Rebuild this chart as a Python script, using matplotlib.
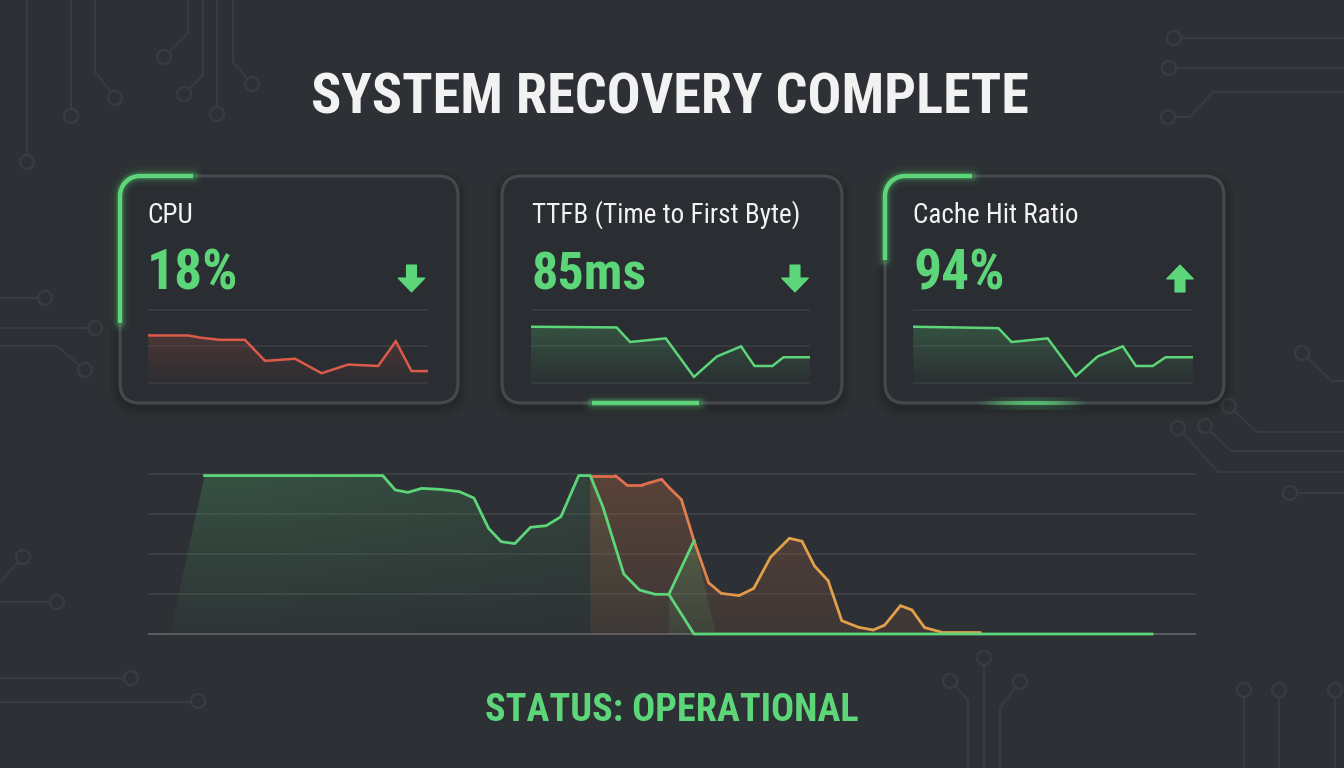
import numpy as np
import matplotlib
matplotlib.use("Agg")
import matplotlib.pyplot as plt
from matplotlib.patches import FancyBboxPatch, Polygon, Circle
from matplotlib.collections import LineCollection
from matplotlib.colors import to_rgba

plt.rcParams['font.family'] = ['Roboto Condensed', 'Roboto', 'DejaVu Sans']

# ---------------- data ----------------
title = "SYSTEM RECOVERY COMPLETE"
status = "STATUS: OPERATIONAL"
card_labels = ["CPU", "TTFB (Time to First Byte)", "Cache Hit Ratio"]
card_values = ["18%", "85ms", "94%"]
card_trends = ["down", "down", "up"]

cpu_t = [0, 14.3, 18.5, 25.6, 34.5, 41.7, 52.4, 61.9, 71.4, 82.1, 88.4, 94.0, 100]
cpu_v = [65, 65, 62, 59, 59, 30, 33, 13, 25, 23, 57, 16, 16]
ttfb_t = [0, 30.7, 35.5, 48.3, 58.4, 66.6, 75.3, 80.1, 86.5, 90.5, 100]
ttfb_v = [77, 76, 56, 61, 8, 36, 50, 23, 23, 35, 35]
cache_t = [0, 30.4, 35.1, 48.0, 58.0, 65.8, 74.8, 79.5, 85.5, 90.1, 100]
cache_v = [77, 75, 56, 61, 9, 36, 50, 23, 23, 35, 35]

green_t = [5.4, 22.4, 23.6, 24.8, 26.1, 27.9, 29.7, 31.1, 32.5, 33.7, 35.0, 36.5,
           38.0, 39.4, 41.1, 42.2, 43.4, 45.4, 46.9, 48.4, 49.7, 52.1, 95.8]
green_v = [99, 99, 90, 88.5, 91, 90.4, 89, 85, 66, 57.7, 56.5, 66.7,
           67.7, 73.3, 99, 99, 79.6, 37.5, 27.5, 24.8, 24.8, 0, 0]
green_fill_start_t = 2.1

orange_t = [42.2, 44.6, 45.7, 47.1, 47.9, 49.0, 49.8, 50.9, 52.1, 53.5, 54.7, 56.4,
            57.8, 59.4, 61.2, 62.4, 63.6, 64.9, 66.2, 67.8, 69.2, 70.3, 71.8, 72.9,
            74.1, 75.7, 79.4]
orange_v = [99, 99, 93, 93, 94.6, 96.7, 91, 84, 58.3, 32, 25.4, 24,
            28.5, 48, 59.8, 58, 42.5, 33.3, 8.3, 4.2, 2.5, 5.6, 17.7, 15,
            4, 1.2, 1.2]

handoff_t = [49.7, 52.1]
handoff_v = [24.8, 58.3]

main_grid = [0, 25, 50, 75, 100]
spark_grid = [0, 50, 100]

# ---------------- style ----------------
W, H = 1344, 768
BG = '#2d3034'
CARD = '#2a2d31'
BORDER = '#45484d'
TRACE = '#383c41'
GREEN = '#5cd679'
RED = '#dc5a4a'
ORANGE_A = '#e06c4e'
ORANGE_B = '#e3a04a'
WHITE = '#f2f2f2'

fig = plt.figure(figsize=(W / 100, H / 100), dpi=100)
fig.patch.set_facecolor(BG)

bg = fig.add_axes([0, 0, 1, 1])
bg.set_xlim(0, W)
bg.set_ylim(H, 0)
bg.axis('off')
bg.set_zorder(0)


def px_axes(x0, x1, y_top, y_bot):
    return fig.add_axes([x0 / W, 1 - y_bot / H, (x1 - x0) / W, (y_bot - y_top) / H])


# ---------- circuit traces (decoration) ----------
traces = [
    ([(27, 0), (27, 155)], (27, 162)),
    ([(71, 0), (71, 109)], (71, 116)),
    ([(95, 0), (95, 72), (110, 91)], (115, 98)),
    ([(188, 0), (188, 33), (170, 51)], (164, 57)),
    ([(203, 0), (203, 75), (189, 89)], (184, 94)),
    ([(217, 0), (217, 107)], (217, 114)),
    ([(233, 0), (233, 62), (247, 78)], (252, 84)),
    ([(W, 38), (1181, 38)], (1174, 38)),
    ([(W, 68), (1176, 68)], (1169, 68)),
    ([(W, 92), (1213, 92), (1190, 117), (1175, 117)], (1168, 117)),
    ([(0, 298), (38, 298)], (45, 298)),
    ([(0, 328), (88, 328)], (95, 328)),
    ([(0, 346), (57, 346), (80, 366)], (85, 370)),
    ([(0, 582), (18, 562)], (23, 557)),
    ([(0, 602), (50, 602)], (57, 602)),
    ([(0, 678), (124, 678)], (131, 678)),
    ([(0, 702), (191, 702)], (198, 701)),
    ([(W, 381), (1332, 381), (1307, 358)], (1302, 353)),
    ([(W, 432), (1257, 432), (1234, 411)], (1229, 406)),
    ([(W, 451), (1231, 451), (1210, 431)], (1205, 426)),
    ([(W, 472), (1218, 472), (1183, 433)], (1178, 428)),
    ([(W, 493), (1297, 493)], (1290, 493)),
    ([(1244, H), (1244, 697)], (1244, 690)),
    ([(1279, H), (1279, 697)], (1279, 690)),
    ([(1335, H), (1335, 697)], (1335, 690)),
    ([(984, H), (984, 665)], (984, 658)),
    ([(968, H), (968, 700), (955, 686)], (950, 681)),
    ([(1000, H), (1000, 708), (1015, 688)], (1020, 682)),
]
for pts, c in traces:
    xs, ys = zip(*pts)
    bg.plot(xs, ys, color=TRACE, lw=1.5, solid_capstyle='round', zorder=1)
    bg.add_patch(Circle(c, 7, facecolor=BG, edgecolor=TRACE, lw=1.7, zorder=2))

# ---------- title & status ----------
bg.text(670, 114, title, color=WHITE, fontsize=40.5, fontweight='bold',
        ha='center', va='baseline', zorder=5)
bg.text(672, 721, status, color=GREEN, fontsize=27.5, fontweight='bold',
        ha='center', va='baseline', zorder=5)

# ---------- cards ----------
cards = [(120, 176, 458, 403), (502, 176, 842, 403), (885, 176, 1224, 403)]
R = 20
for (x0, y0, x1, y1) in cards:
    for k, a in [(10, 0.04), (6, 0.05), (3, 0.07)]:
        bg.add_patch(FancyBboxPatch((x0 - k, y0 - k + 4), x1 - x0 + 2 * k, y1 - y0 + 2 * k,
                                    boxstyle=f"round,pad=0,rounding_size={R + k}",
                                    facecolor=(0, 0, 0, a), edgecolor='none', zorder=3))
    bg.add_patch(FancyBboxPatch((x0, y0), x1 - x0, y1 - y0,
                                boxstyle=f"round,pad=0,rounding_size={R}",
                                facecolor=CARD, edgecolor=BORDER, lw=2.3, zorder=4))


def glow_line(xs, ys, color=GREEN, lw=3.2, z=6, strength=1.0):
    for w, a in [(14, 0.05), (9, 0.10), (6, 0.18)]:
        bg.plot(xs, ys, color=color, lw=w, alpha=a * strength, solid_capstyle='round', zorder=z)
    bg.plot(xs, ys, color=color, lw=lw, alpha=strength, solid_capstyle='butt', zorder=z + 0.1)


def corner_accent(x0, y0, y_end, x_end):
    th = np.linspace(np.pi, 1.5 * np.pi, 30)
    ax_ = x0 + R + R * np.cos(th)
    ay_ = y0 + R + R * np.sin(th)
    xs = np.concatenate([[x0], ax_, [x_end]])
    ys = np.concatenate([[y_end], ay_, [y0]])
    glow_line(xs, ys)


corner_accent(120, 176, 323, 193)
corner_accent(885, 176, 260, 972)
glow_line([592, 699], [403, 403])
# faded glow bar on card 3
seg_x = np.linspace(975, 1090, 40)
segs = [[(seg_x[i], 403), (seg_x[i + 1], 403)] for i in range(len(seg_x) - 1)]
s = np.linspace(0, 1, len(segs))
alphas = np.sin(np.pi * s) ** 1.2 * 0.75
cols = [to_rgba(GREEN, a) for a in alphas]
bg.add_collection(LineCollection(segs, colors=[to_rgba(GREEN, a * 0.25) for a in alphas], lw=9, zorder=6))
bg.add_collection(LineCollection(segs, colors=cols, lw=3, zorder=6.1))

label_x = [147, 532, 913]
value_sizes = [40, 37.5, 40]
for i, (x0, y0, x1, y1) in enumerate(cards):
    bg.text(label_x[i], 223, card_labels[i], color=WHITE, fontsize=19.5,
            ha='left', va='baseline', zorder=7)
    bg.text(label_x[i], 289, card_values[i], color=GREEN, fontsize=value_sizes[i], fontweight='bold',
            ha='left', va='baseline', zorder=7)

arrow_cx = [411.5, 795, 1180]
for cx, tr in zip(arrow_cx, card_trends):
    top, bot = 265, 292
    sw, hw, hl = 5, 13.5, 14
    if tr == 'down':
        verts = [(cx - sw, top), (cx + sw, top), (cx + sw, bot - hl), (cx + hw, bot - hl),
                 (cx, bot), (cx - hw, bot - hl), (cx - sw, bot - hl)]
    else:
        verts = [(cx - sw, bot), (cx + sw, bot), (cx + sw, top + hl), (cx + hw, top + hl),
                 (cx, top), (cx - hw, top + hl), (cx - sw, top + hl)]
    bg.add_patch(Polygon(verts, closed=True, facecolor=GREEN, edgecolor=GREEN, lw=0.8,
                         joinstyle='miter', zorder=7))


def gradient_under(ax, x, y, color, a_top, a_bot, y0, y1, z, x_fade=None):
    verts = [(x[0], y0)] + list(zip(x, y)) + [(x[-1], y0)]
    patch = Polygon(verts, closed=True, facecolor='none', edgecolor='none')
    ax.add_patch(patch)
    ny, nx = 200, 200
    alpha = np.linspace(a_bot, a_top, ny)[:, None] * np.ones((1, nx))
    if x_fade is not None:
        xx = np.linspace(min(x), max(x), nx)
        alpha = alpha * np.clip(x_fade(xx), 0, 1)[None, :]
    rgba = np.zeros((ny, nx, 4))
    rgba[..., :3] = to_rgba(color)[:3]
    rgba[..., 3] = alpha
    im = ax.imshow(rgba, extent=[min(x), max(x), y0, y1], origin='lower',
                   aspect='auto', zorder=z, interpolation='bilinear')
    im.set_clip_path(patch)


# ---------- sparklines ----------
spark_specs = [
    (148.3, 428.3, cpu_t, cpu_v, RED),
    (531, 810, ttfb_t, ttfb_v, GREEN),
    (913.3, 1193.3, cache_t, cache_v, GREEN),
]
for (x0, x1, t, v, col) in spark_specs:
    per = (382.7 - 310) / 100
    ax = px_axes(x0, x1, 310 - 5 * per, 382.7 + 5 * per)
    ax.set_zorder(5)
    ax.patch.set_alpha(0)
    ax.axis('off')
    for g in spark_grid:
        ax.axhline(g, color='#3b3e43', lw=1.1, zorder=1)
    gradient_under(ax, t, v, col, 0.28, 0.02, 0, 100, 2)
    ax.plot(t, v, color=col, lw=1.8, solid_joinstyle='miter', zorder=3)
    ax.set_xlim(0, 100)
    ax.set_ylim(-5, 105)

# ---------- main chart ----------
per = (634 - 474) / 100
m = 4
ax = px_axes(148, 1196, 474 - m * per, 634 + m * per)
ax.set_zorder(5)
ax.patch.set_alpha(0)
ax.axis('off')
for g in main_grid:
    if g == 0:
        ax.axhline(g, color='#5a5d62', lw=1.4, zorder=1)
    else:
        ax.axhline(g, color='#3e4146', lw=1.2, zorder=1)

gt = [green_fill_start_t] + green_t
gv = [0] + green_v
gradient_under(ax, gt, gv, GREEN, 0.20, 0.03, 0, 100, 2,
               x_fade=lambda xx: 1.0 - 0.55 * np.clip((xx - 10) / 45, 0, 1) - 0.45 * (xx > 56))
gradient_under(ax, orange_t, orange_v, '#d9784a', 0.26, 0.10, 0, 100, 2.2)
gradient_under(ax, [handoff_t[0], handoff_t[1], handoff_t[1] + 2.1],
               [handoff_v[0], handoff_v[1], 0], GREEN, 0.30, 0.08, 0, 100, 2.4)

# orange line with color gradient along time
ot = np.array(orange_t)
ov = np.array(orange_v)
segs = [[(ot[i], ov[i]), (ot[i + 1], ov[i + 1])] for i in range(len(ot) - 1)]
ca, cb = np.array(to_rgba(ORANGE_A)), np.array(to_rgba(ORANGE_B))
mid = (ot[:-1] + ot[1:]) / 2
f = np.clip((mid - 48) / 10, 0, 1)
ocols = [ca * (1 - k) + cb * k for k in f]
ax.add_collection(LineCollection(segs, colors=ocols, lw=2.0, zorder=4,
                                 joinstyle='round', capstyle='round'))
ax.plot(green_t, green_v, color=GREEN, lw=2.0, zorder=5, solid_joinstyle='round')
ax.plot(handoff_t, handoff_v, color=GREEN, lw=2.0, zorder=5)
ax.set_xlim(0, 100)
ax.set_ylim(-m, 100 + m)

fig.savefig('out.png', dpi=100, facecolor=BG)
